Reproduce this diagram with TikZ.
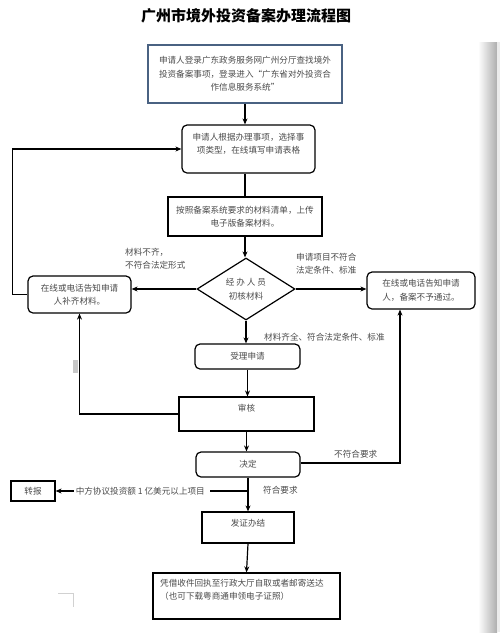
\documentclass[tikz,border=0pt]{standalone}
\usepackage{fontspec}
\setmainfont{Noto Sans CJK SC}
\usetikzlibrary{shapes.geometric,arrows.meta}
\definecolor{txt}{HTML}{4A4A4A}
\definecolor{bluebd}{HTML}{4A6282}
\tikzset{
  ln/.style={line width=1.2pt, draw=black},
  arr/.style={ln, -{Stealth[length=6pt,width=5pt]}},
  box/.style={draw, line width=1.2pt, text=txt, font=\fontsize{8.6}{13.5}\selectfont, align=center, inner sep=0pt},
  rbox/.style={box, rounded corners=5pt},
  lbl/.style={text=txt, font=\fontsize{8.6}{13.5}\selectfont, align=left, inner sep=0pt},
  ctr/.style={lbl, align=center},
}
\begin{document}
\begin{tikzpicture}[x=1pt,y=-1pt]
\useasboundingbox (0,0) rectangle (500,638);
% scan shadow at right edge
\shade[left color=white, right color=black!32] (478,42) rectangle (497,632);
\fill[black!8] (497,42) rectangle (500,632);
% small scan marks
\fill[black!22] (73,360) rectangle (78,373);
\draw[black!18, line width=1pt] (58,593) -- (73,593) -- (73,607);

% title
\node (title) at (246,16) {\fontsize{15}{18}\selectfont\bfseries 广州市境外投资备案办理流程图};

% boxes
\node (b1) [box, draw=bluebd, minimum width=194pt, minimum height=58pt] at (245,74)
  {申请人登录广东政务服务网广州分厅查找境外\\投资备案事项，登录进入“广东省对外投资合\\作信息服务系统”};
\node (b2) [rbox, minimum width=133pt, minimum height=48pt] at (248.5,149) {};
\node (b2t) [ctr] at (248.5,144) {申请人根据办理事项，选择事\\项类型，在线填写申请表格};
\node (b3) [box, minimum width=154pt, minimum height=39pt] at (245,216.5)
  {按照备案系统要求的材料清单，上传\\电子版备案材料。};
\node (dia) [diamond, draw, line width=1.2pt, minimum width=98pt, minimum height=62pt, inner sep=0pt] at (246,289) {};
\node (diat) [ctr] at (246,289) {经 办 人 员\\初核材料};
\node (L) [rbox, minimum width=103pt, minimum height=37pt] at (79.5,294.5)
  {在线或电话告知申请\\人补齐材料。};
\node (R) [rbox, minimum width=108pt, minimum height=37pt] at (421,290.5)
  {在线或电话告知申请\\人，备案不予通过。};
\node (shouli) [rbox, minimum width=105pt, minimum height=25pt] at (247.5,356.5) {受理申请};
\node (shenhe) [box, minimum width=135pt, minimum height=34pt] at (246.5,414) {};
\node (shenhet) [ctr] at (246.5,408) {审核};
\node (jueding) [rbox, minimum width=104pt, minimum height=25pt] at (248,464.5) {决定};
\node (zhuanbao) [box, minimum width=44pt, minimum height=20pt] at (33,491) {转报};
\node (fazheng) [box, minimum width=92pt, minimum height=31pt] at (248,527.5) {};
\node (fazhengt) [ctr] at (248,523) {发证办结};
\node (last) [box, minimum width=187pt, minimum height=46pt] at (246.5,596) {};
\node (lastt) [lbl, anchor=west] at (160,590) {凭借收件回执至行政大厅自取或者邮寄送达\\（也可下载粤商通申领电子证照）};

% labels
\node (l1) [lbl, anchor=north west] at (125,248) {材料不齐，\\不符合法定形式};
\node (l2) [lbl, anchor=north west] at (296,253) {申请项目不符合\\法定条件、标准};
\node (l3) [lbl, anchor=west] at (264,337) {材料齐全、符合法定条件、标准};
\node (l4) [lbl, anchor=west] at (334,454) {不符合要求};
\node (l5) [lbl, anchor=west] at (263,490) {符合要求};
\node (cnl) [lbl, anchor=east] at (205,491) {中方协议投资额 1 亿美元以上项目};

% connectors
\draw[arr] (b1.south) -- (b1.south |- b2.north);
\draw[ln] (b3.north |- b2.south) -- (b3.north);
\draw[arr] (b3.south) -- (b3.south |- dia.north);
\draw[arr] (dia.west) -- (L.east |- dia.west);
\draw[arr] (dia.east) -- (R.west |- dia.east);
\draw[arr] (dia.south) -- (dia.south |- shouli.north);
\draw[arr] (shouli.south) -- (shouli.south |- shenhe.north);
\draw[arr] (shenhe.south) -- (shenhe.south |- jueding.north);
\draw[arr] (shenhe.west) -| (L.south);
\draw[arr] (L.west) -- ++(-15,0) |- (b2.west);
\draw[arr] ([yshift=1.5pt]jueding.east) -| ([xshift=-21pt]R.south);
\draw[arr] (jueding.south) -- (fazheng.north);
\coordinate (br) at (jueding.south |- zhuanbao.east);
\draw[ln] (br) -- ([xshift=5pt]cnl.east);
\draw[arr] ([xshift=-2pt]cnl.west) -- (zhuanbao.east);
\draw[arr] (fazheng.south) -- (last.north);
\end{tikzpicture}
\end{document}
